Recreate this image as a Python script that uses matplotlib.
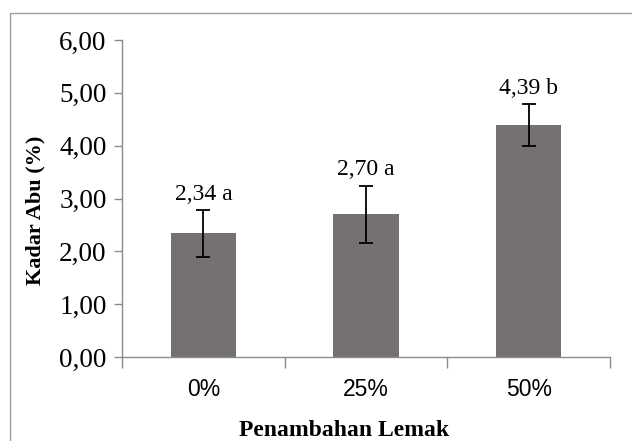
import matplotlib
matplotlib.use("Agg")
import matplotlib.pyplot as plt
from matplotlib.patches import Rectangle

categories = ["0%", "25%", "50%"]
values = [2.34, 2.70, 4.39]
errors = [0.44, 0.54, 0.39]
letters = ["a", "a", "b"]
yticks = [0, 1, 2, 3, 4, 5, 6]

fig = plt.figure(figsize=(6.32, 4.41), dpi=100)
ax = fig.add_axes([122/632, 1-357/441, (610-122)/632, (357-40)/441])

axis_col = "#8c8c8c"
bar_col = "#767171"
x = list(range(len(categories)))
ax.bar(x, values, width=0.4, color=bar_col, zorder=2)
ax.errorbar(x, values, yerr=errors, fmt="none", ecolor="black",
            elinewidth=1.3, capsize=5, capthick=1.3, zorder=3)
for xi, v, e, l in zip(x, values, errors, letters):
    lab = f"{v:.2f}".replace(".", ",") + " " + l
    ax.text(xi, v + e + 0.2, lab, ha="center", va="baseline",
            family="Liberation Serif", fontsize=17)

ax.set_xlim(-0.5, 2.5)
ax.set_ylim(0, 6)
ax.set_yticks(yticks)
ax.set_yticklabels([f"{t:.2f}".replace(".", ",") for t in yticks],
                   family="Liberation Serif", fontsize=19.5)
ax.set_xticks(x)
ax.set_xticklabels(categories, family="Liberation Sans", fontsize=16.5)
ax.set_xticks([-0.5, 0.5, 1.5, 2.5], minor=True)
ax.tick_params(axis="x", which="major", length=0, pad=15)
ax.tick_params(axis="x", which="minor", length=8, color=axis_col, width=1)
ax.tick_params(axis="y", length=6, color=axis_col, width=1, pad=5)

for s in ["top", "right"]:
    ax.spines[s].set_visible(False)
for s in ["left", "bottom"]:
    ax.spines[s].set_color(axis_col)
    ax.spines[s].set_linewidth(1)

ax.set_ylabel("Kadar Abu (%)", family="Liberation Serif", fontweight="bold",
              fontsize=16, va="baseline")
ax.yaxis.set_label_coords((40-122)/488, (357-210)/317)
ax.set_xlabel("Penambahan Lemak", family="Liberation Serif", fontweight="bold",
              fontsize=17, va="baseline")
ax.xaxis.set_label_coords((344-122)/488, (357-436)/317)

fig.patches.append(Rectangle((10/632, -0.1), 1.2, 1-13/441+0.1,
                             transform=fig.transFigure, fill=False,
                             edgecolor="#a0a0a0", linewidth=1))

fig.savefig("out.png", dpi=100)
